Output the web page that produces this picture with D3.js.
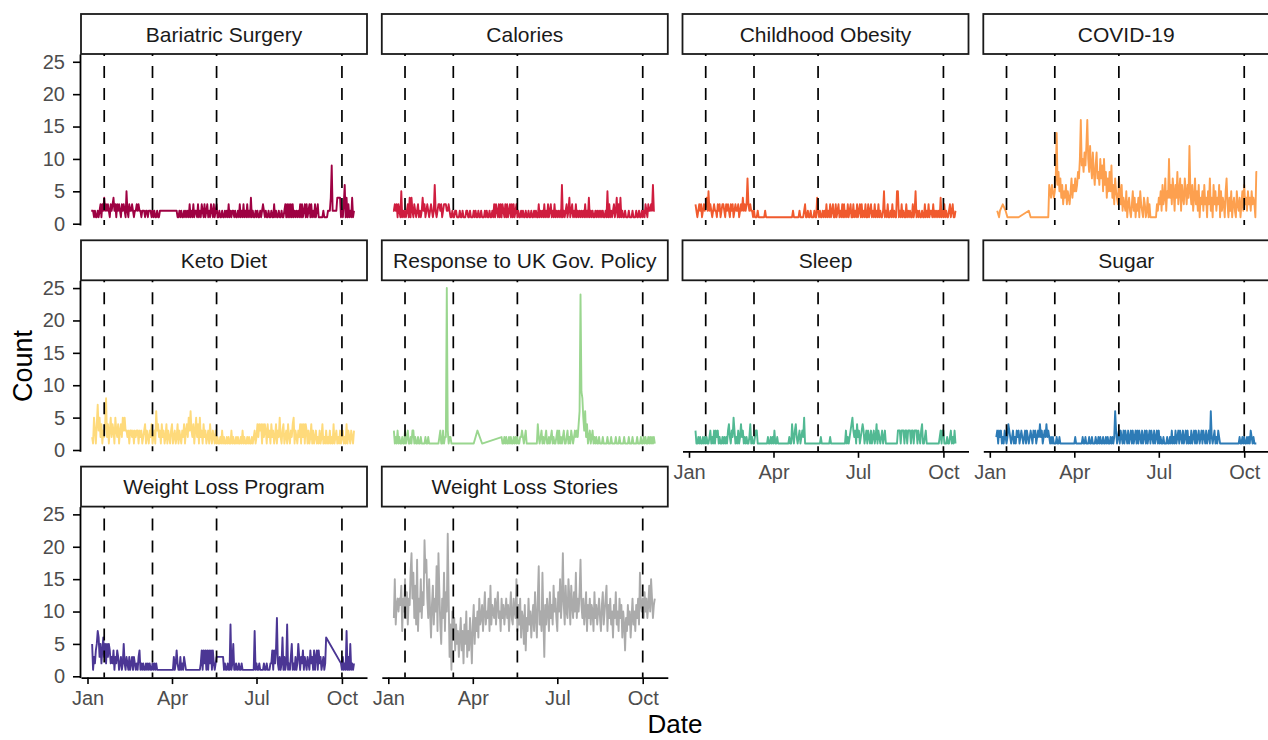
<!DOCTYPE html>
<html>
<head>
<meta charset="utf-8">
<script src="https://cdn.jsdelivr.net/npm/d3@7"></script>
<style>
  body { margin: 0; background: #fff; }
  text { font-family: "Liberation Sans", Arial, Helvetica, sans-serif; }
</style>
</head>
<body>
<svg id="chart" width="1268" height="740"></svg>
<script>
// ---------------- DATA ----------------
// Each series: runs of daily counts, [dayOfYear (0 = 1 Jan 2020), [counts...]].
// Gaps between runs are days without data (the line joins across them).
const yearStart = "2020-01-01";
const xDomainDates = ["2019-12-25", "2020-10-28"];
const xTickDates = ["2020-01-01", "2020-04-01", "2020-07-01", "2020-10-01"];
const xTickLabels = ["Jan", "Apr", "Jul", "Oct"];
const yTicks = [0, 5, 10, 15, 20, 25];
const eventDates = ["2020-01-19", "2020-03-11", "2020-05-19", "2020-10-01"];

const panelNames = ["Bariatric Surgery", "Calories", "Childhood Obesity", "COVID-19",
  "Keto Diet", "Response to UK Gov. Policy", "Sleep", "Sugar",
  "Weight Loss Program", "Weight Loss Stories"];
const panelColors = ["#9E0142", "#CF1D3F", "#F05A2E", "#FDA04F", "#FEDA7B",
  "#9AD68F", "#52B993", "#2D7BB6", "#4B3694", "#ABABAB"];

const bariatricSurgery = [
  [4, [2,2,2,1,2,1,1,2,1,2, 3,1,3,2,4, 2,3,2,3,2,1,3,2,3, 4, 2,3,1,3,2,3,2,1,3,2,3,2,1, 5,
       2,1,3,2,2,3,2,1,2,2,3,2,3, 2,2,1,2,2,2,1,2,2,1,2,2,2, 1,2,1,2,1,1,2,1,1,2,2,2,2,2]],
  [96, [2, 1,1,2,1,2,1,1,2, 1,2,1,2,1,3,
        1,2,1,3,1,2,2,1,3,1, 2,1,3,2,1,3,1,2,3,1, 2,1,3,2,1,3,1,2,3,1,
        1,2,1,1,2,1,1,2,1,2,1,3, 1,2,1,2,2,1,2,1,1,2, 1,3,1,2,1,3,1,2,1,3,1,2,1, 4,
        1,2,1,1,2,1,2,1,1,2,1,2, 3, 2,1,2,1,1,2,1,1,2,1,1, 3, 1,2,1,1,2,1,1,2,1,1,2,
        3,1,3,1,3,1,3,1,3,1, 2,1,2,1,2,1, 3,1,3,1,2,3,1,3,1,2,3,1,3,1,2,1,3,1,2,3,1,1,
        1,1,1,2,1,1,1,1,2,2,2, 4,9, 2,2,2,2, 2,4,4,4,4, 1,2,1,3, 6, 1,4,1,3,1,2,1,4,1,2]]
];
const calories = [
  [5, [2,2,3,2,3,1,3,2,1, 5, 1,2,1,2,1,2,3,1, 4,1,4, 2,1,3,2,1,2,3,1,2,1,2, 4,
       2,3,1,2,3,2,1,2,3,2,1,2, 6, 2,1,2,3,3,2,3,1,2,3,3,3,2,2,3,2,
       1,1,2,1,1,2,2,1,1,1, 2,1,1,2,1,1,1,2,2,1, 1,2,1,1,1,2,1,2,1,1, 2,1,1,2,1,1,1,2,1,2, 1,1,2,1,1,2,
       1,3,1,3,2,1,3,1,3,1, 3,2,1,3,1,3,1,2,3,1, 3,1,3,1,2, 3,
       1,2,1,1,2,1,2,1,1,2, 1,1,2,1,1,2,1,1,2,1, 2,1,1, 3,
       1,2,1,2,1,3,1,2,1,3, 1,2,3,1,2,1,3,1,2,1, 2,1,2,1, 6, 1,2,1,2,3,1,2,4,
       1,2,3,1,2,1,3,1,2,1, 2,1,2,1,2,1,3,1,2,1, 4, 1,2,1,2,1,1,2,1,2,1, 2,1,2,1,2,1,1,2,1, 5,
       1,3,1,2,1,2,3,1,2,4, 1,3,1,4,1,2, 1,1,2,1,1,1,2,1,1,1, 2,1,1,1,2,1,1,2,1,1, 2,1,2,1,3,
       2,1,3,2,2,3,2, 6, 2,2]]
];
const childhoodObesity = [
  [7, [3,2,1,2,3,2,3,1,2,3,2,3,4,2, 5,
       2,3,2,1,2,3,2,2,1,3, 2,3,1,2,3,3,2,1,3,2, 3,2,1,3,2,3,1,2,3,2, 2,3,1,2,3,2, 4, 2,3,2,3, 7,
       3,2,3,2,2,1,2,1,1,1,2,1, 1,1,1,1,1,1,2,1,1]],
  [111, [1,2,1,1,1,1,1,1,2,1, 1,1,1,2,3,1,1,2,1,1, 2,1,1,1,2,1,1, 4,
         2,1,2,1,1,2,1,2,1,3, 1,2,1,3,1,2,3,1,1,3, 1,2,3,1,2,1,3,1,3,1, 2,1,3,1,2,3,1,1,3,1,
         2,1,3,1,2,3,1,3,1,2, 1,3,1,1,3,1,2,3,1,2, 1,3,1,2,1,3,1,2,1,1, 2, 5,
         1,2,1,3,1,1,2,1,3,1,2,1,1, 5,5, 1,2,1,3,1,2,1,1,3,1,2,1,2,1,1,3,1,2, 5,
         1,2,1,2,1,1,2,1,1,3, 1,2,1,3,1,2,2,1,3,1, 2,1,2,1,2,1, 4, 1,2,1,3,1,2,1,1,2,3,1,2,3,1,1,2]]
];
const covid19 = [
  [8, [2]], [10, [1, 2]], [14, [3]], [17, [2]], [19, [1]], [31, [1]], [42, [2]], [44, [1]], [63, [1]],
  [64, [6,5,4,6,5,4,5, 7,14, 6,8,5,7,4,6, 3,5,4,6,3,5,4,3, 5,7,4,6,5,7,5,6, 8,7,10, 16, 9,10,8, 11,9,12, 16,
        10,8,12,9,7,11,8, 6,9,11,7,8,6,10,7,9,5, 10,6,8,4,7,5, 8,5,9,4,6,3,7,5,4, 3,7,5,3,6,2,4,
        3,2,5,1,3,4,2,1,3,5, 2,4,1,3,2,4,1,5,3,2, 1,4,3,1,2,4,1,3, 1,1,1,1,1,1,1,
        3,2,4,3,5,2,6,3,4,7,2,5,4, 10, 4,6,3,7,5,2,6,4,8,3, 5,7,2,6,4,3,7,5,3,6, 4, 12,
        5,3,6,2,4,7,3,5,2,6, 1,4,3,5,2,6,3,4,1,5, 3,7,2,4,1,6,3,5,2,4, 3,6,1,5,2,4,3,1,5,7,
        3,1,4,2,5,1,3,4,2,1, 5,3,2,4,1,3,5,2, 6,3,4,2,5,3,4,2,5,3,4,3, 1,8,8]]
];
const ketoDiet = [
  [5, [2,1,5,3,1,4,7,3, 5,2,4,1,3,2,4, 8,
       2,4,1,3,5,2,4,3,1,5, 3,2,4,1,3,4,2,5,3,5, 3,3,2,3,1,3,3,2,3,1, 3,2,3,3,1,3,2,3,1,2, 3, 4,
       1,3,2,1,3,2,4,1,2,3,1, 6, 3,4,2,3,1,4,2,3,1,2, 4,1,3,2,1,3,4,1,2,3, 1,2,4,1,3,2,1,
       3,2,4,1,3,4,2,5,3, 6, 3,2,4,1,3,5,2,4,1,5, 2,3,1,4,2,3,1,2,3,1, 4,2,1,3,2,1,3,1,
       2,1,1,2,1,3,1,2,1,1, 2,1,2,1,1,3,1,2,1,1, 2,1,2,1,1,2,1,3,1,2, 1,1,2,1,2,1,1,2,1,2, 3,1,2,
       4,2,4,3,4,1,4,2,4,3, 1,4,2,3,1,4,2,3, 1,2,4,1,3,2, 5, 2,1,3,4,1,2,3,1,4,2,1,3,2,4, 5,
       1,3,2,1,3,2, 4,1,4,2,4,1,4,3, 1,3,1,2,4,1,3,1,2,3, 1,2,1,3,1,2,4,1,2,1, 3,1,2,1,3,1,2,1, 4,
       1,2,3,1,2,1,3,1,2,3,1,2,1, 4, 1,3,2,1,3,2,1,3]]
];
const ukGovPolicy = [
  [6, [3,1,2,1,3,1,2,1,1,2, 1,1,3,1,2,3,1,1,2,1, 3,3,1,2,1,1,2,1,1,2,
       1,1,1,1,2,1,1,2,1,1, 1,1,1,1,1,1,1,1,1,2, 3,1,1,3,1,2,2,25,3,1,2,2,1,1,1,1,1,1]],
  [92, [1]], [96, [3]], [101, [1]],
  [122, [2,1,1,2,1,2,1,1,2,1, 2,1,1,2,1,2,1,2,1,1, 2,2, 3,2,1,2,3,1]],
  [158, [1]],
  [159, [1,1,4,2,1,2,3,1,2,1, 2,3,1,1,2,1,2,3,1,2, 1,1,2,3,1,3,1,2,1,2, 3,1,1,2,3,1,2,1,3,2, 1,2,3,2,3,2,
         4,6,24,9,8,5,3,6,2,4, 1,2,3,1,2,3,1,2,1,2,
         1,1,2,1,1,1,2,1,1,1, 1,2,1,1,1,2,1,1,1,1, 2,1,1,1,2,1,1,1,1,2, 1,1,1,1,2,1,1,1,2,1,
         1,1,1,2,1,1,1,2,1,1, 2,1,2,1,1,2,1,2,1,2, 1,2,1]]
];
const sleep = [
  [7, [3,1,1,2,1,2,1,1,2,1,2,1,2,1,1,2, 3, 1,2,1,3,1,3,2,3,1,2, 1,1,2,1,2,1,2,1,3, 4, 2,1,3,2, 5,
       3,1,2,1,3,1,2, 4, 2,3,1,2,1,2,1,1,2, 4, 1,2,1,1,2, 3,3,
       1,1,1,1,1,1,1,1,1,1, 1,2,1,1,2,1,2,1,3,1, 1,2,1,1,1,1,1,1,1,1, 1,1,1,1,
       2,1,1,4,2,1,3,4,2,1, 2,3,1,2,3,2,5,1,1,
       1,1,1,1,1,1,1,1,1,1, 1,1,1,1,1,2,1,1,1,1, 1,1,1,1,1,2,1,1,1,1, 1,1,1,1,1,1,1,1,1,1, 1,
       1,3,1,2,1,2,3,4,5,3, 2,3,1,4,2,3,1,2,3,4, 3,1,2,3,1,3,2,1,3,1, 2,3,1,
       2,4,1,3,2,1,2,3,1,2,3,1,1, 1,1,1,1,1,1,1,1,1,1,1,3,
       3,3,1,3,3,3,1,3,3,1, 3,3,3,1,3,3,1,3,3,3, 1,3,2,1,3, 4, 1,1,2, 3,
       1,1,1,1,1,1,1,1,1,1,1,1,1,1, 2,3,1,3,3,1,1,1,2,1,1,2,3,1,2,1,3,1]]
];
const sugar = [
  [7, [2,3,1,3,2,3,1,2,1,3,2,1,2, 4,
       3,2,1,2,3,1,2,1,3,2, 3,1,2,3,2,1,2,3,1,3, 2,1,2,3,2,1,3,2,3,1, 2,3,2, 4, 2,3,1,2,3,2, 4,
       2,3,2,1,2,1,2,1,1,1,2,1,1,2, 1,1,1,1,1,1,1,1,1,1,1,1,1,1,1,1,2,
       1,1,1,1,1,1,1,2,1,1, 2,1,1,1,2,1,1,2,1,1, 1,2,1,1,2,1,2,1,1,2, 1,1,2,1,2,1,1,2,1,2, 1,2, 6,
       3,1,2,3,1,3,2,1,3,1, 3,2,1,3,1,2,3,1,3,1, 2,3,1,3,1,3,2,1,3,1, 2,3,1,3,1,2,3,1,3,2,
       1,3,1,2,3,1,3,1,2,1, 1,2,1,1,1,2,1,1,2,1, 3,1,2,1,
       3,1,2,3,1,3,2,1,3,1, 2,3,1,3,1,2,1,3,1,2, 3,1,3,1,2,3,1,2,3,1, 3,2,1,3,1,2,3,1, 6,
       2,1,2,3,1,2,1,3,2,1, 1,1,1,1,1,1,1,1,1,1, 1,1,1,1,1,1,1,1,1,1, 2,1,1,2,1,2,1,1,2,1, 2,1,3,2,1,2,1,1,1]]
];
const weightLossProgram = [
  [5, [5,1,3,2,4,5, 7, 6,3,5,2,4,6,3,5,2,5,3,5,4,2, 3,2,4,1,3,2,4,3,1,2,3,1,2, 5,
       2,1,3,2,1,3,1,2,3,1,3,2,1,2,1,3, 4, 1,2,1,2,1,1,2,1,2,1,2,1,1,2,1,2,1,2,1, 1]],
  [92, [1,3,1,2,4,2,1,1,3,1,2,1,3]],
  [106, [1]], [121, [1]],
  [122, [2,4,1,4,2,4,1,4,1,4,2,4,1,4,2,1,2]],
  [139, [3]], [146, [3]],
  [147, [1,2,1,1,2,1,1, 8,1,2,5,1,1,2,1,1,2,1, 1,2,1]],
  [173, [1]], [179, [1]],
  [180, [7,1, 2,1,1,2,1,1,1, 1,2,1,1,2,1,1,1,2,
         2,4,1,4,2,4,9,2,1,3, 1,2,6,1,3,1,2,8,1,2, 1,3,5,1,2,1,3,1,2,5,
         3,1,3,2,4,1,3,2,1,3, 2,1,4,2,3,1,4,1,3,4, 1,4,2,3,1,2,3,1,2,6]],
  [273, [2,1,3,1,2,1,7,1,3,1,5,1,2,1,2]]
];
const weightLossStories = [
  [6, [9,15,8,11,12,10,12,11,14,7, 12,10,15,9,13,8,12,11,16,19, 12,16,9,14,8,18,7,12,10,15,
       9,13,11,21,16,18,12,9,15,10, 6,11,14,8,12,10,17,7,19,13, 8,5,12,9,16,7,13,10,22,12,
       3,8,1,10,6,9,4,8,5,7, 3,6,9,4,7,2,8,5,10,3, 7,4,9,6,2,8,11,5,9,7,
       10,6,12,8,9,11,7,10,13,8, 10,9,12,7,14,8,11,10,9,12, 8,11,13,9,10,7,12,9,11,8,
       10,12,9,11,7,10,13,9,8,12, 10,9,15,7,11,8,12,6,10,9, 5,11,4,9,7,12,8,10,6,9,
       11,7,13,9,6,12,17,8,10,7, 16,9,3,11,8,12,10,7,13,9, 11,8,14,10,12,9,7,13,10,15,
       9,12,19,11,8,14,10,9,15,12, 8,14,11,9,13,10,16,9,12,10, 13,18,11,9,12,8,10,13,7,11,
       9,12,8,11,10,7,13,9,11,8, 10,12,9,7,11,13,8,10,12,14, 7,11,9,12,8,10,6,11,9,13,
       8,10,7,12,9,11,6,10,8,4, 9,7,11,8,10,6,9,12,8,10, 7,11,9,12,8,16,11,10,12,9,
       13,10,12,9,11,14,10,15,12,9, 11,12]]
];
const seriesRuns = [bariatricSurgery, calories, childhoodObesity, covid19, ketoDiet,
  ukGovPolicy, sleep, sugar, weightLossProgram, weightLossStories];

// ---------------- CHART ----------------
const svg = d3.select("#chart");
const parse = d3.timeParse("%Y-%m-%d");
const day0 = parse(yearStart);

function toPoints(runs) {
  const pts = [];
  runs.forEach(([start, vals]) => {
    vals.forEach((v, i) => {
      if (v != null) pts.push({ date: d3.timeDay.offset(day0, start + i), value: v });
    });
  });
  return pts;
}
const seriesPoints = seriesRuns.map(toPoints);

const W = 286, H = 171, stripH = 40;
const colLeft = [81, 381.8, 682.5, 983.3];
const rowTop = [54, 280.3, 506.6];

const x = d3.scaleTime().domain(xDomainDates.map(parse)).range([0, W]);
const allVals = seriesPoints.flat().map(d => d.value);
const vMin = d3.min(allVals), vMax = d3.max(allVals);
const pad = (vMax - vMin) * 0.05;
const y = d3.scaleLinear().domain([vMin - pad, vMax + pad]).range([H, 0]);

const line = d3.line().x(d => x(d.date)).y(d => y(d.value));

const n = panelNames.length;
panelNames.forEach((name, i) => {
  const col = i % 4, row = Math.floor(i / 4);
  const g = svg.append("g").attr("transform", `translate(${colLeft[col]},${rowTop[row]})`);

  // strip
  g.append("rect").attr("x", 0).attr("y", -stripH).attr("width", W).attr("height", stripH)
    .attr("fill", "#fff").attr("stroke", "#1a1a1a").attr("stroke-width", 1.8);
  g.append("text").attr("x", W / 2).attr("y", -stripH / 2).attr("dy", "0.36em")
    .attr("text-anchor", "middle").attr("font-size", 21).attr("fill", "#1a1a1a").text(name);

  // series line
  g.append("path").datum(seriesPoints[i])
    .attr("fill", "none").attr("stroke", panelColors[i]).attr("stroke-width", 1.9)
    .attr("stroke-linejoin", "round").attr("d", line);

  // event lines
  g.selectAll("line.ev").data(eventDates.map(parse)).enter().append("line")
    .attr("class", "ev")
    .attr("x1", d => x(d)).attr("x2", d => x(d))
    .attr("y1", 0).attr("y2", H)
    .attr("stroke", "#000").attr("stroke-width", 1.7)
    .attr("stroke-dasharray", "12,10").attr("stroke-dashoffset", 10);

  // y axis (first column)
  if (col === 0) {
    const ya = g.append("g").attr("transform", "translate(-1,0)")
      .call(d3.axisLeft(y).tickValues(yTicks).tickSize(7).tickPadding(8).tickSizeOuter(0));
    ya.select(".domain").attr("stroke", "#000").attr("stroke-width", 1.8);
    ya.selectAll(".tick line").attr("stroke", "#000").attr("stroke-width", 1.6);
    ya.selectAll(".tick text").attr("font-size", 20).attr("fill", "#4d4d4d")
      .attr("font-family", "Liberation Sans, Arial, sans-serif");
  }
  // x axis (bottom panel of each column)
  if (i + 4 >= n) {
    const xa = g.append("g").attr("transform", `translate(0,${H})`)
      .call(d3.axisBottom(x).tickValues(xTickDates.map(parse))
        .tickFormat((d, k) => xTickLabels[k]).tickSize(6.5).tickPadding(7).tickSizeOuter(0));
    xa.select(".domain").attr("stroke", "#000").attr("stroke-width", 1.8);
    xa.selectAll(".tick line").attr("stroke", "#000").attr("stroke-width", 1.6);
    xa.selectAll(".tick text").attr("font-size", 20).attr("fill", "#4d4d4d")
      .attr("font-family", "Liberation Sans, Arial, sans-serif");
  }
});

// axis titles
svg.append("text").attr("transform", "translate(31.5,366) rotate(-90)")
  .attr("text-anchor", "middle").attr("font-size", 27).attr("fill", "#000").text("Count");
svg.append("text").attr("x", 675).attr("y", 733)
  .attr("text-anchor", "middle").attr("font-size", 26).attr("fill", "#000").text("Date");
</script>
</body>
</html>
